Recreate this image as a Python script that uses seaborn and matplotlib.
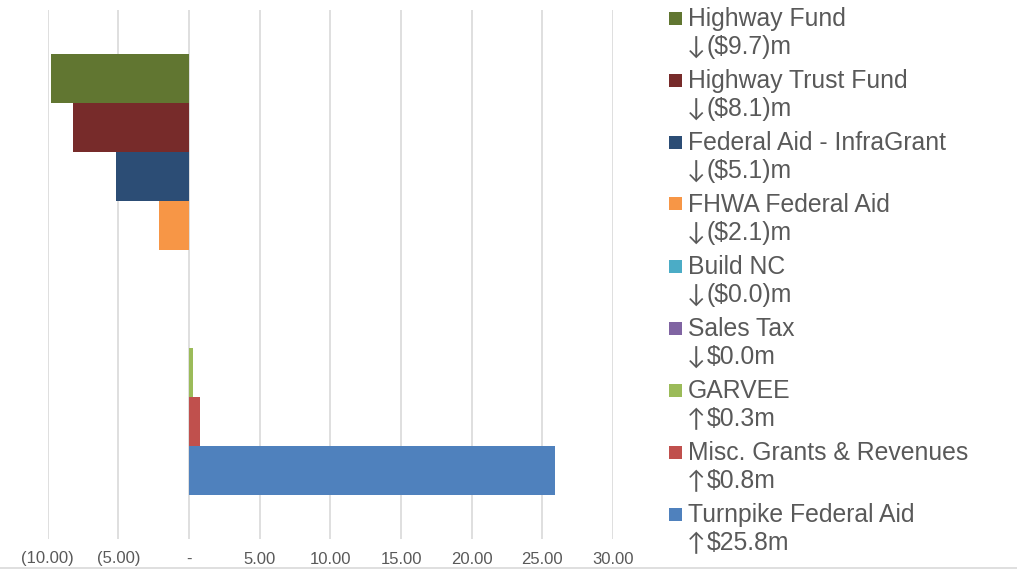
import matplotlib
matplotlib.use("Agg")
import matplotlib.pyplot as plt
import seaborn as sns
import pandas as pd
from matplotlib.patches import Rectangle
from matplotlib.lines import Line2D

# ---- data ----
series_names = ["Highway Fund", "Highway Trust Fund", "Federal Aid - InfraGrant",
                "FHWA Federal Aid", "Build NC", "Sales Tax", "GARVEE",
                "Misc. Grants & Revenues", "Turnpike Federal Aid"]
series_values = [-9.8, -8.2, -5.15, -2.1, -0.01, 0.0, 0.28, 0.78, 25.9]
change_arrows = ["\u2193", "\u2193", "\u2193", "\u2193", "\u2193", "\u2193", "\u2191", "\u2191", "\u2191"]
change_labels = ["($9.7)m", "($8.1)m", "($5.1)m", "($2.1)m",
                 "($0.0)m", "$0.0m", "$0.3m", "$0.8m", "$25.8m"]
series_colors = ["#617631", "#772B2A", "#2C4D75", "#F79646", "#4BACC6",
                 "#8064A2", "#9BBB59", "#C0504D", "#4F81BD"]
tick_values = [-10, -5, 0, 5, 10, 15, 20, 25, 30]
tick_labels = ["(10.00)", "(5.00)", "-", "5.00", "10.00", "15.00", "20.00", "25.00", "30.00"]

df = pd.DataFrame({"group": ["all"] * len(series_names),
                   "series": series_names,
                   "value": series_values})

sns.set_theme(style="white")
plt.rcParams["font.family"] = ["Liberation Sans", "DejaVu Sans"]

W, H = 1017, 570
fig = plt.figure(figsize=(W / 100, H / 100), dpi=100)
ax = fig.add_axes([47.7 / W, 1 - 539 / H, (613 - 47.7) / W, (539 - 10) / H])

sns.barplot(data=df, x="value", y="group", hue="series", hue_order=series_names,
            palette=series_colors, orient="h", dodge=True, width=0.832, gap=0,
            legend=False, ax=ax, saturation=1, errorbar=None)

for p in ax.patches:
    p.set_linewidth(0)

ax.set_xlim(-10, 30)
ax.set_ylim(0.5, -0.5)
ax.set_xticks(tick_values)
ax.set_xticklabels(tick_labels, fontsize=12, color="#595959")
ax.set_yticks([])
ax.set_xlabel("")
ax.set_ylabel("")
ax.tick_params(axis="x", length=0, pad=9)
ax.grid(axis="x", color="#D9D9D9", linewidth=1.2)
ax.set_axisbelow(True)
for s in ax.spines.values():
    s.set_visible(False)

# ---- legend (manual layout, two-line labels) ----
fig.canvas.draw()
renderer = fig.canvas.get_renderer()
for i, (name, arr, lab, col) in enumerate(zip(series_names, change_arrows,
                                               change_labels, series_colors)):
    cy = 18 + i * 62.0
    fig.add_artist(Rectangle((669 / W, 1 - (cy + 6.5) / H), 13 / W, 13 / H,
                             transform=fig.transFigure, facecolor=col, edgecolor="none"))
    fig.text(688 / W, 1 - (cy + 8) / H, name, fontsize=17.8, color="#595959",
             va="baseline", ha="left")
    at = fig.text(687 / W, 1 - (cy + 37) / H, arr, fontsize=17.8, color="#595959",
                  va="baseline", ha="left", family=["Lato", "DejaVu Sans"])
    right = at.get_window_extent(renderer).x1
    fig.text(max(700.0, right + 0.8) / W, 1 - (cy + 36) / H, lab, fontsize=17.8,
             color="#595959", va="baseline", ha="left")

fig.add_artist(Line2D([0, 1], [1 - 568 / H, 1 - 568 / H], transform=fig.transFigure,
                      color="#D9D9D9", linewidth=1.2))

fig.savefig("out.png", dpi=100)
